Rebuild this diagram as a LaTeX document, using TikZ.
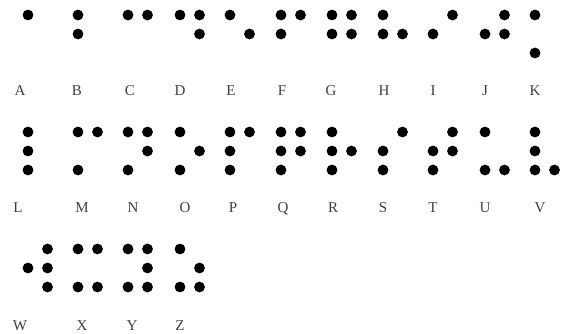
\documentclass[tikz,border=0pt]{standalone}
\usepackage{fontspec}
\setmainfont{Liberation Serif}
\newcommand\bcell[3]{%
  \foreach \d in {#3}{%
    \pgfmathtruncatemacro\cc{\d>3}%
    \pgfmathtruncatemacro\rr{mod(\d-1,3)}%
    \fill[black] ({#1+19.5*\cc},{#2+19*\rr}) circle (5.4pt);}}
\begin{document}
\begin{tikzpicture}[x=1pt,y=-1pt,
  lbl/.style={font=\fontsize{15}{15}\selectfont, text=black!75, anchor=base, inner sep=0pt}]
\fill[white] (0,0) rectangle (565,333);
\useasboundingbox (0,0) rectangle (565,333);
% row 1
\bcell{28}{15}{1}
\bcell{78}{15}{1,2}
\bcell{128}{15}{1,4}
\bcell{180}{15}{1,4,5}
\bcell{230}{15}{1,5}
\bcell{281}{15}{1,2,4}
\bcell{332}{15}{1,2,4,5}
\bcell{383}{15}{1,2,5}
\bcell{433}{15}{2,4}
\bcell{485}{15}{2,4,5}
\bcell{535}{15}{1,3}
\node[lbl] (lA) at (20,95) {A};
\node[lbl] (lB) at (77,95) {B};
\node[lbl] (lC) at (130,95) {C};
\node[lbl] (lD) at (180,95) {D};
\node[lbl] (lE) at (231,95) {E};
\node[lbl] (lF) at (282,95) {F};
\node[lbl] (lG) at (331,95) {G};
\node[lbl] (lH) at (384,95) {H};
\node[lbl] (lI) at (433,95) {I};
\node[lbl] (lJ) at (485,95) {J};
\node[lbl] (lK) at (535,95) {K};
% row 2
\bcell{28}{132}{1,2,3}
\bcell{78}{132}{1,3,4}
\bcell{128}{132}{1,3,4,5}
\bcell{180}{132}{1,3,5}
\bcell{230}{132}{1,2,3,4}
\bcell{281}{132}{1,2,3,4,5}
\bcell{332}{132}{1,2,3,5}
\bcell{383}{132}{2,3,4}
\bcell{433}{132}{2,3,4,5}
\bcell{485}{132}{1,3,6}
\bcell{535}{132}{1,2,3,6}
\node[lbl] (lL) at (18,212) {L};
\node[lbl] (lM) at (82,212) {M};
\node[lbl] (lN) at (133,212) {N};
\node[lbl] (lO) at (185,212) {O};
\node[lbl] (lP) at (233,212) {P};
\node[lbl] (lQ) at (283,212) {Q};
\node[lbl] (lR) at (333,212) {R};
\node[lbl] (lS) at (383,212) {S};
\node[lbl] (lT) at (433,212) {T};
\node[lbl] (lU) at (485,212) {U};
\node[lbl] (lV) at (540,212) {V};
% row 3
\bcell{28}{249}{2,4,5,6}
\bcell{78}{249}{1,3,4,6}
\bcell{128}{249}{1,3,4,5,6}
\bcell{180}{249}{1,3,5,6}
\node[lbl] (lW) at (20,330) {W};
\node[lbl] (lX) at (82,330) {X};
\node[lbl] (lY) at (132,330) {Y};
\node[lbl] (lZ) at (180,330) {Z};
\end{tikzpicture}
\end{document}
